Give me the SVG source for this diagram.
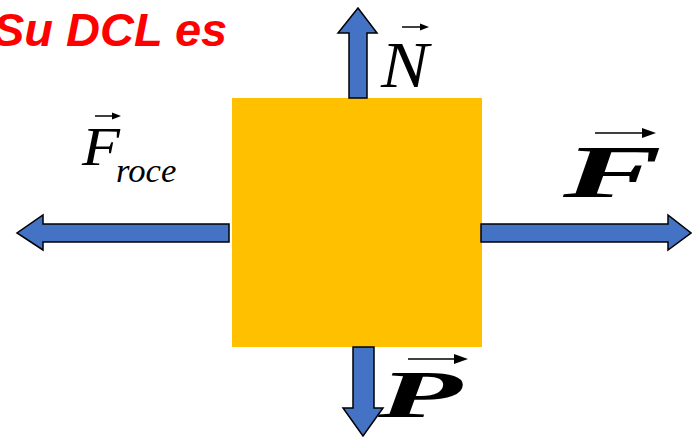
<svg xmlns="http://www.w3.org/2000/svg" width="692" height="437" viewBox="0 0 692 437">
<style>
.force{fill:#4472C4;stroke:#000;stroke-width:1.5;stroke-linejoin:miter}
.vec{fill:none;stroke:#000;stroke-width:1.5}
.head{fill:#000}
.sym{font-family:"Liberation Serif","Times New Roman",serif;font-style:italic;fill:#000}
.bold{font-weight:bold}
</style>
<rect width="692" height="437" fill="#fff"/>
<text x="-7" y="46" font-family="Liberation Sans, Arial, sans-serif" font-size="47" font-weight="bold" font-style="italic" fill="#FF0000">Su DCL es</text>
<g id="block"><rect x="232" y="98" width="250" height="249" fill="#FFC000"/></g>
<g id="connectors">
<path id="arrow-N" class="force" d="M349,98 V33 H338 L358,8 L377,33 H367 V98 Z"/>
<path id="arrow-P" class="force" d="M353,347 V408 H343 L363,436 L383,408 H374 V347 Z"/>
<path id="arrow-Froce" class="force" d="M229,224 H43 V215 L17,233 L43,250 V242 H229 Z"/>
<path id="arrow-F" class="force" d="M481,224 H668 V215 L691,233 L668,250 V242 H481 Z"/>
</g>
<g id="label-N">
<text class="sym" transform="translate(381,87) scale(1.08,1)" font-size="66">N</text>
<line class="vec" x1="402" y1="27" x2="424" y2="27"/><path class="head" d="M429,27 L420,23.5 L420,30.5 Z"/>
</g>
<g id="label-Froce">
<text class="sym" transform="translate(82,165) scale(1.15,1)" font-size="54">F</text>
<text class="sym" transform="translate(116,182) scale(1.05,1)" font-size="33">roce</text>
<line class="vec" x1="95" y1="116" x2="116" y2="116"/><path class="head" d="M121,116 L112,112.5 L112,119.5 Z"/>
</g>
<g id="label-F">
<text class="sym bold" transform="translate(563,197) scale(2,1)" font-size="74">F</text>
<line class="vec" x1="595" y1="133" x2="646" y2="133" stroke-width="2.2"/><path class="head" d="M656,133 L642,128 L642,138 Z"/>
</g>
<g id="label-P">
<text class="sym bold" transform="translate(378,417) scale(2.05,1)" font-size="67">P</text>
<line class="vec" x1="408" y1="359" x2="458" y2="359" stroke-width="2.2"/><path class="head" d="M468,359 L454,354 L454,364 Z"/>
</g>
</svg>
